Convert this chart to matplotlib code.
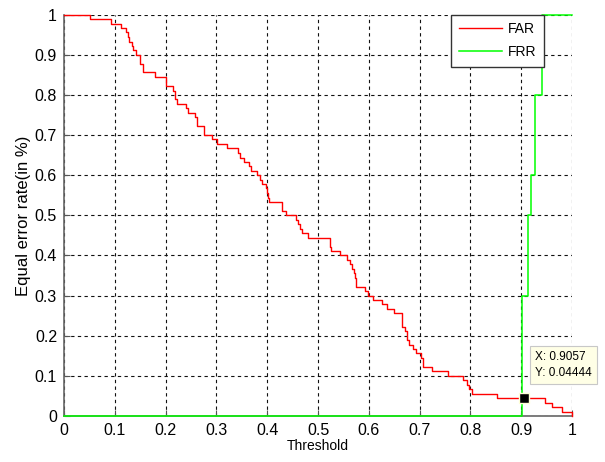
import matplotlib
matplotlib.use("Agg")
import matplotlib.pyplot as plt

# FAR staircase: threshold where the value changes, and the value from there on
far_threshold = [0.0, 0.051, 0.093, 0.1125, 0.122, 0.126, 0.128, 0.133, 0.136, 0.1425,
                 0.150, 0.1556, 0.180, 0.201, 0.2145, 0.219, 0.222, 0.2406, 0.245, 0.258,
                 0.2615, 0.2765, 0.291, 0.302, 0.320, 0.342, 0.3465, 0.355, 0.365, 0.369,
                 0.380, 0.3857, 0.390, 0.397, 0.399, 0.401, 0.404, 0.4295, 0.436, 0.4557,
                 0.460, 0.464, 0.4686, 0.480, 0.523, 0.526, 0.544, 0.5576, 0.5635, 0.567,
                 0.570, 0.572, 0.574, 0.5916, 0.598, 0.608, 0.6255, 0.635, 0.6496, 0.666,
                 0.671, 0.6746, 0.680, 0.6877, 0.692, 0.702, 0.7076, 0.7238, 0.7565, 0.786,
                 0.7927, 0.797, 0.803, 0.8517, 0.9465, 0.961, 0.980, 1.0]
far_value = [1.0, 0.989, 0.978, 0.967, 0.956, 0.944, 0.933, 0.922, 0.911, 0.900,
             0.878, 0.856, 0.844, 0.822, 0.811, 0.789, 0.778, 0.767, 0.756, 0.744,
             0.722, 0.700, 0.689, 0.678, 0.667, 0.656, 0.644, 0.633, 0.622, 0.611,
             0.600, 0.589, 0.578, 0.567, 0.556, 0.544, 0.533, 0.511, 0.500, 0.489,
             0.478, 0.467, 0.456, 0.444, 0.422, 0.411, 0.400, 0.389, 0.378, 0.367,
             0.356, 0.344, 0.322, 0.311, 0.300, 0.289, 0.278, 0.267, 0.256, 0.222,
             0.211, 0.189, 0.178, 0.167, 0.156, 0.144, 0.122, 0.111, 0.100, 0.089,
             0.078, 0.067, 0.056, 0.04444, 0.033, 0.022, 0.011, 0.0]

# FRR staircase
frr_threshold = [0.0, 0.901, 0.914, 0.9186, 0.927, 0.940, 1.0]
frr_value = [0.0, 0.3, 0.5, 0.6, 0.8, 1.0, 1.0]

# equal error point (data tip)
eer_x = 0.9057
eer_y = 0.04444

ticks = [0, 0.1, 0.2, 0.3, 0.4, 0.5, 0.6, 0.7, 0.8, 0.9, 1]
tick_labels = ["0", "0.1", "0.2", "0.3", "0.4", "0.5", "0.6", "0.7", "0.8", "0.9", "1"]

narrow = ["Liberation Sans Narrow", "Liberation Sans", "DejaVu Sans"]
plt.rcParams["font.family"] = ["Liberation Sans", "DejaVu Sans"]

fig = plt.figure(figsize=(6.05, 4.62), dpi=100)
ax = fig.add_axes([0.1058, 0.0996, 0.8397, 0.8686])

ax.plot(far_threshold, far_value, drawstyle="steps-post", color="#ff0000", lw=1.0,
        label="FAR", clip_on=False, zorder=3)
ax.plot(frr_threshold, frr_value, drawstyle="steps-post", color="#00ff00", lw=1.1,
        label="FRR", clip_on=False, zorder=3.1)

ax.plot([eer_x], [eer_y], marker="s", ms=7, color="black", mec="#ffffd8", mew=1, zorder=5)
ax.annotate(f"X: {eer_x}\nY: {eer_y}", xy=(eer_x, eer_y), xytext=(11, 19),
            textcoords="offset pixels", ha="left", va="bottom", fontsize=8.5,
            linespacing=1.45,
            bbox=dict(boxstyle="square,pad=0.4", fc="#ffffe6", ec="#c8c8c8", lw=0.8),
            zorder=6)

ax.set_xlim(0, 1)
ax.set_ylim(0, 1)
ax.set_xticks(ticks)
ax.set_yticks(ticks)
ax.set_xticklabels(tick_labels, family=narrow, fontsize=11.5)
ax.set_yticklabels(tick_labels, family=narrow, fontsize=11.5)
ax.tick_params(direction="in", length=4, width=0.8, color="#555555", pad=5)

ax.grid(True, color="#111111", linestyle=(0, (3, 3)), lw=0.8)
for side in ["top", "right"]:
    ax.spines[side].set_visible(False)
for side in ["left", "bottom"]:
    ax.spines[side].set_color("#666666")
    ax.spines[side].set_linewidth(1.2)
    ax.spines[side].set_zorder(2.5)

ax.set_xlabel("Threshold", fontsize=10, labelpad=1)
ax.set_ylabel("Equal error rate(in %)", fontsize=12, labelpad=3)

leg = ax.legend(loc="upper right", bbox_to_anchor=(0.945, 1.0), borderaxespad=0,
                fancybox=False, framealpha=1, edgecolor="#333333", fontsize=10,
                handlelength=3.1, handletextpad=0.45, labelspacing=0.65, borderpad=0.55)
leg.get_frame().set_linewidth(1.0)
leg.set_zorder(7)

plt.savefig("out.png", dpi=100)
